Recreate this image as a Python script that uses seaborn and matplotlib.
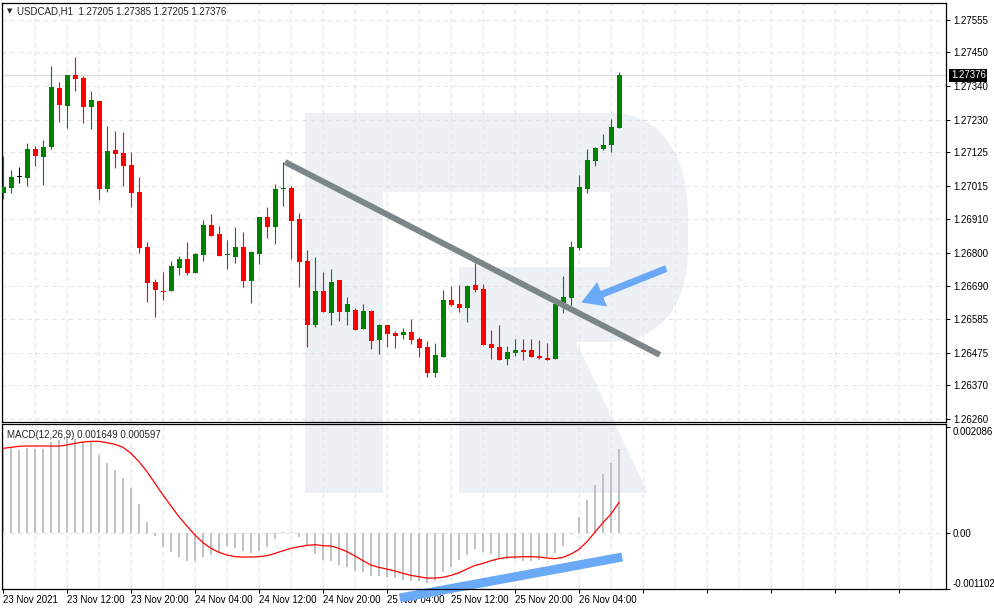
import numpy as np
import pandas as pd
import matplotlib
matplotlib.use("Agg")
import matplotlib.pyplot as plt
import seaborn as sns
from matplotlib.path import Path
from matplotlib.patches import PathPatch

# DATA (USDCAD H1)
times = pd.date_range("2021-11-23 04:00", periods=78, freq="h")

opens = [1.26992, 1.27011, 1.27044, 1.27043, 1.27136, 1.27111, 1.27144, 1.27334, 1.27277, 1.27376,
         1.27368, 1.27273, 1.27292, 1.27007, 1.27133, 1.27123, 1.27084, 1.26997, 1.26818, 1.26705,
         1.26676, 1.26676, 1.26751, 1.26779, 1.26735, 1.26793, 1.26890, 1.26860, 1.26792, 1.26787,
         1.26818, 1.26709, 1.26796, 1.26916, 1.26884, 1.27006, 1.27010, 1.26909, 1.26773, 1.26565,
         1.26675, 1.26605, 1.26711, 1.26608, 1.26614, 1.26553, 1.26610, 1.26517, 1.26565, 1.26539,
         1.26533, 1.26542, 1.26519, 1.26494, 1.26410, 1.26462, 1.26646, 1.26633, 1.26620, 1.26695,
         1.26682, 1.26503, 1.26494, 1.26455, 1.26474, 1.26484, 1.26484, 1.26464, 1.26458, 1.26456,
         1.26635, 1.26654, 1.26815, 1.27007, 1.27098, 1.27137, 1.27150, 1.27205]
highs = [1.27114, 1.27068, 1.27077, 1.27156, 1.27146, 1.27165, 1.27406, 1.27354, 1.27376, 1.27435,
         1.27373, 1.27325, 1.27292, 1.27211, 1.27195, 1.27191, 1.27127, 1.27045, 1.26834, 1.26714,
         1.26737, 1.26773, 1.26789, 1.26834, 1.26798, 1.26906, 1.26925, 1.26886, 1.26841, 1.26883,
         1.26867, 1.26805, 1.26916, 1.26948, 1.27023, 1.27094, 1.27016, 1.26929, 1.26808, 1.26786,
         1.26737, 1.26747, 1.26711, 1.26656, 1.26620, 1.26633, 1.26614, 1.26568, 1.26565, 1.26545,
         1.26555, 1.26584, 1.26526, 1.26513, 1.26507, 1.26679, 1.26692, 1.26695, 1.26696, 1.26765,
         1.26698, 1.26549, 1.26565, 1.26497, 1.26519, 1.26519, 1.26519, 1.26516, 1.26507, 1.26633,
         1.26724, 1.26838, 1.27052, 1.27136, 1.27143, 1.27185, 1.27234, 1.27385]
lows = [1.26974, 1.26992, 1.27025, 1.27016, 1.27081, 1.27018, 1.27136, 1.27224, 1.27204, 1.27325,
        1.27222, 1.27201, 1.26971, 1.26998, 1.27076, 1.27017, 1.26949, 1.26800, 1.26641, 1.26592,
        1.26646, 1.26676, 1.26727, 1.26727, 1.26735, 1.26774, 1.26855, 1.26790, 1.26748, 1.26767,
        1.26689, 1.26637, 1.26764, 1.26848, 1.26829, 1.26952, 1.26780, 1.26689, 1.26495, 1.26560,
        1.26608, 1.26566, 1.26579, 1.26566, 1.26550, 1.26553, 1.26488, 1.26472, 1.26495, 1.26491,
        1.26520, 1.26504, 1.26462, 1.26397, 1.26397, 1.26462, 1.26627, 1.26607, 1.26575, 1.26672,
        1.26500, 1.26455, 1.26452, 1.26435, 1.26464, 1.26451, 1.26462, 1.26455, 1.26452, 1.26456,
        1.26603, 1.26630, 1.26808, 1.26994, 1.27082, 1.27134, 1.27128, 1.27205]
closes = [1.27014, 1.27044, 1.27044, 1.27136, 1.27115, 1.27142, 1.27338, 1.27280, 1.27375, 1.27364,
          1.27273, 1.27295, 1.27007, 1.27130, 1.27121, 1.27082, 1.26994, 1.26816, 1.26702, 1.26680,
          1.26671, 1.26757, 1.26779, 1.26733, 1.26795, 1.26890, 1.26855, 1.26790, 1.26795, 1.26818,
          1.26709, 1.26802, 1.26916, 1.26884, 1.27006, 1.27007, 1.26904, 1.26770, 1.26565, 1.26675,
          1.26608, 1.26705, 1.26608, 1.26633, 1.26550, 1.26610, 1.26514, 1.26565, 1.26537, 1.26530,
          1.26542, 1.26517, 1.26491, 1.26410, 1.26468, 1.26646, 1.26630, 1.26620, 1.26692, 1.26679,
          1.26500, 1.26490, 1.26452, 1.26477, 1.26484, 1.26478, 1.26462, 1.26458, 1.26452, 1.26633,
          1.26656, 1.26818, 1.27013, 1.27101, 1.27140, 1.27149, 1.27208, 1.27376]

macd_hist = [0.001661, 0.001675, 0.001629, 0.001668, 0.001655, 0.001655, 0.001786, 0.001826, 0.001904, 0.00185,
             0.00179, 0.00179, 0.001537, 0.001379, 0.001235, 0.001084, 0.00088, 0.000571, 0.000217, -0.000066,
             -0.000276, -0.000387, -0.000473, -0.000552, -0.000552, -0.000473, -0.00044, -0.000374, -0.000263, -0.000302,
             -0.000361, -0.000407, -0.000361, -0.000276, -0.000125, 0.00002, 0.00001, -0.000079, -0.00026, -0.00042,
             -0.000538, -0.000552, -0.000637, -0.00067, -0.000749, -0.000768, -0.000847, -0.000847, -0.00088, -0.000887,
             -0.000933, -0.000946, -0.000946, -0.000985, -0.000946, -0.000775, -0.00067, -0.000538, -0.00044, -0.000315,
             -0.000374, -0.000427, -0.000493, -0.000519, -0.000525, -0.000552, -0.000565, -0.000538, -0.000473, -0.000394,
             -0.000263, -0.000026, 0.000309, 0.000644, 0.000939, 0.001162, 0.001373, 0.001649]
macd_signal = [0.001661, 0.001681, 0.001701, 0.001707, 0.001707, 0.001707, 0.001707, 0.001707, 0.001727, 0.00176,
               0.001786, 0.001799, 0.001799, 0.001773, 0.00174, 0.001681, 0.001563, 0.001399, 0.001202, 0.000972,
               0.000742, 0.000525, 0.000315, 0.000131, -0.000046, -0.000197, -0.000309, -0.000387, -0.00044, -0.000473,
               -0.000479, -0.000479, -0.000473, -0.000453, -0.000407, -0.000355, -0.000309, -0.000276, -0.00025, -0.000236,
               -0.000256, -0.000263, -0.000309, -0.000374, -0.00046, -0.000552, -0.000637, -0.000683, -0.000716, -0.000755,
               -0.000801, -0.000841, -0.000867, -0.000893, -0.000893, -0.00088, -0.000841, -0.000788, -0.000716, -0.000644,
               -0.000604, -0.000552, -0.000512, -0.000486, -0.000479, -0.000473, -0.000473, -0.000479, -0.000499, -0.000512,
               -0.000486, -0.00042, -0.000328, -0.000177, 0.000013, 0.000197, 0.000368, 0.000597]

price_ticks = [1.27555, 1.27450, 1.27340, 1.27230, 1.27125, 1.27015, 1.26910,
               1.26800, 1.26690, 1.26585, 1.26475, 1.26370, 1.26260]
macd_ticks = [-0.001102, 0.0, 0.002086]

# trend line (bar index, price), arrow, macd divergence line
trend_x, trend_y = [35.25, 82.1], [1.27094, 1.26468]
arrow_from, arrow_to = (82.9, 1.26748), (72.3, 1.26638)
div_x, div_y = [49.6, 77.4], [-0.001286, -0.000479]

# STYLE
sns.set_theme(style="white")
plt.rcParams['font.family'] = ['Liberation Sans', 'DejaVu Sans']
plt.rcParams['font.size'] = 7

W, H = 994, 610
fig = plt.figure(figsize=(W / 100, H / 100), dpi=100)
fig.patch.set_facecolor('white')

def fx(x, y):
    return (x / W, 1 - y / H)

# watermark "R" behind the panels
verts = [(305, 113), (610, 113), (665, 113), (688, 160), (688, 215), (688, 250),
         (688, 305), (660, 342), (610, 342), (576, 342), (648, 493), (459, 493),
         (459, 267), (610, 267), (610, 192), (383, 192), (383, 493), (305, 493), (305, 113)]
codes = [Path.MOVETO, Path.LINETO, Path.CURVE4, Path.CURVE4, Path.CURVE4, Path.LINETO,
         Path.CURVE4, Path.CURVE4, Path.CURVE4, Path.LINETO, Path.LINETO, Path.LINETO,
         Path.LINETO, Path.LINETO, Path.LINETO, Path.LINETO, Path.LINETO, Path.LINETO, Path.CLOSEPOLY]
logo = PathPatch(Path([fx(*v) for v in verts], codes), transform=fig.transFigure,
                 fc='#edf1f6', ec='none', zorder=-1)
fig.add_artist(logo)

ax = fig.add_axes([2 / W, 1 - 421.7 / H, 944 / W, 419 / H])
ax2 = fig.add_axes([2 / W, 1 - 589 / H, 944 / W, 164.7 / H])

x = np.arange(len(opens))
o, h, l, c = map(np.array, (opens, highs, lows, closes))
colors = np.where(c > o, '#008000', np.where(c < o, '#ff0000', '#000000'))

grid_kw = dict(color='#e3e3e3', lw=0.75, ls=(0, (4, 4)))

for a in (ax, ax2):
    a.set_facecolor('none')
    a.set_axisbelow(True)
    a.set_xlim(-0.125, 117.875)
    for s in a.spines.values():
        s.set_color('black')
        s.set_linewidth(0.9)
    a.yaxis.tick_right()
    a.tick_params(axis='y', direction='out', length=3, width=0.75, pad=2,
                  labelsize=7, colors='black', right=True, left=False)
    a.set_xticks([i for i in range(0, 118, 8)])
    a.set_xticks([i for i in range(4, 118, 8)], minor=True)
    a.grid(True, axis='x', which='both', **grid_kw)

# price panel
ax.set_ylim(1.26251, 1.27611)
ax.set_yticks(price_ticks)
ax.set_yticklabels([f"{p:.5f}" for p in price_ticks])
ax.grid(True, axis='y', **grid_kw)
ax.tick_params(axis='x', which='both', length=0, labelbottom=False)
ax.axhline(closes[-1], color='#dcdcdc', lw=1, zorder=1)

ax.vlines(x, l, h, colors=colors, lw=0.8, zorder=3)
body = np.maximum(np.abs(c - o), 0.00003)
ax.bar(x, body, bottom=np.minimum(o, c), width=0.625, color=colors, lw=0, zorder=3)

ax.plot(trend_x, trend_y, color='#7c8588', lw=4.3, solid_capstyle='butt', zorder=4)
ax.annotate('', xy=arrow_to, xytext=arrow_from,
            arrowprops=dict(arrowstyle='simple,head_length=1.6,head_width=1.9,tail_width=0.5',
                            fc='#6aa9f5', ec='none', mutation_scale=10, shrinkA=0, shrinkB=0),
            zorder=5)
ax.annotate(f"{closes[-1]:.5f}", xy=(1, closes[-1]), xycoords=ax.get_yaxis_transform(),
            xytext=(3.5, 0), textcoords='offset points', va='center', ha='left',
            color='white', fontsize=7,
            bbox=dict(boxstyle='square,pad=0.15', fc='black', ec='none'))

fig.text(*fx(7, 11), "\u25bc", fontsize=5, va='center', ha='left', family='DejaVu Sans')
fig.text(*fx(17, 11),
         f"USDCAD,H1  {opens[-1]:.5f} {highs[-1]:.5f} {lows[-1]:.5f} {closes[-1]:.5f}",
         fontsize=7, va='center', ha='left')

# MACD panel
ax2.set_ylim(-0.001109, 0.002135)
ax2.set_yticks(macd_ticks)
ax2.set_yticklabels(['-0.001102', '0.00', '0.002086'])
ylabs = ax2.get_yticklabels()
ylabs[0].set_va('bottom')
ylabs[2].set_va('top')
ax2.axhline(0, zorder=0, **grid_kw)

ax2.vlines(x, 0, macd_hist, colors='#c0c0c0', lw=1.4, zorder=2)
sns.lineplot(x=x, y=macd_signal, ax=ax2, color='#ff0000', lw=0.9, zorder=3)
ax2.plot(div_x, div_y, color='#6aa9f5', lw=6.5, solid_capstyle='butt', clip_on=False, zorder=2)

labels = []
for i in range(0, 118, 8):
    if i >= len(times):
        labels.append('')
    elif i == 0:
        labels.append(f"{times[i].day} {times[i]:%b %Y}")
    else:
        labels.append(f"{times[i].day} {times[i]:%b %H:%M}")
ax2.set_xticklabels(labels)
ax2.tick_params(axis='x', which='major', direction='out', length=3, width=0.75,
                pad=1.5, labelsize=7, colors='black', bottom=True)
ax2.tick_params(axis='x', which='minor', length=0)
for t in ax2.get_xticklabels():
    t.set_ha('left')
ax2.set_xlabel('')
ax2.set_ylabel('')

ax2.text(0.005, 0.965, "MACD(12,26,9) 0.001649 0.000597", transform=ax2.transAxes,
         fontsize=7, va='top', ha='left')

fig.savefig('out.png', dpi=100)
